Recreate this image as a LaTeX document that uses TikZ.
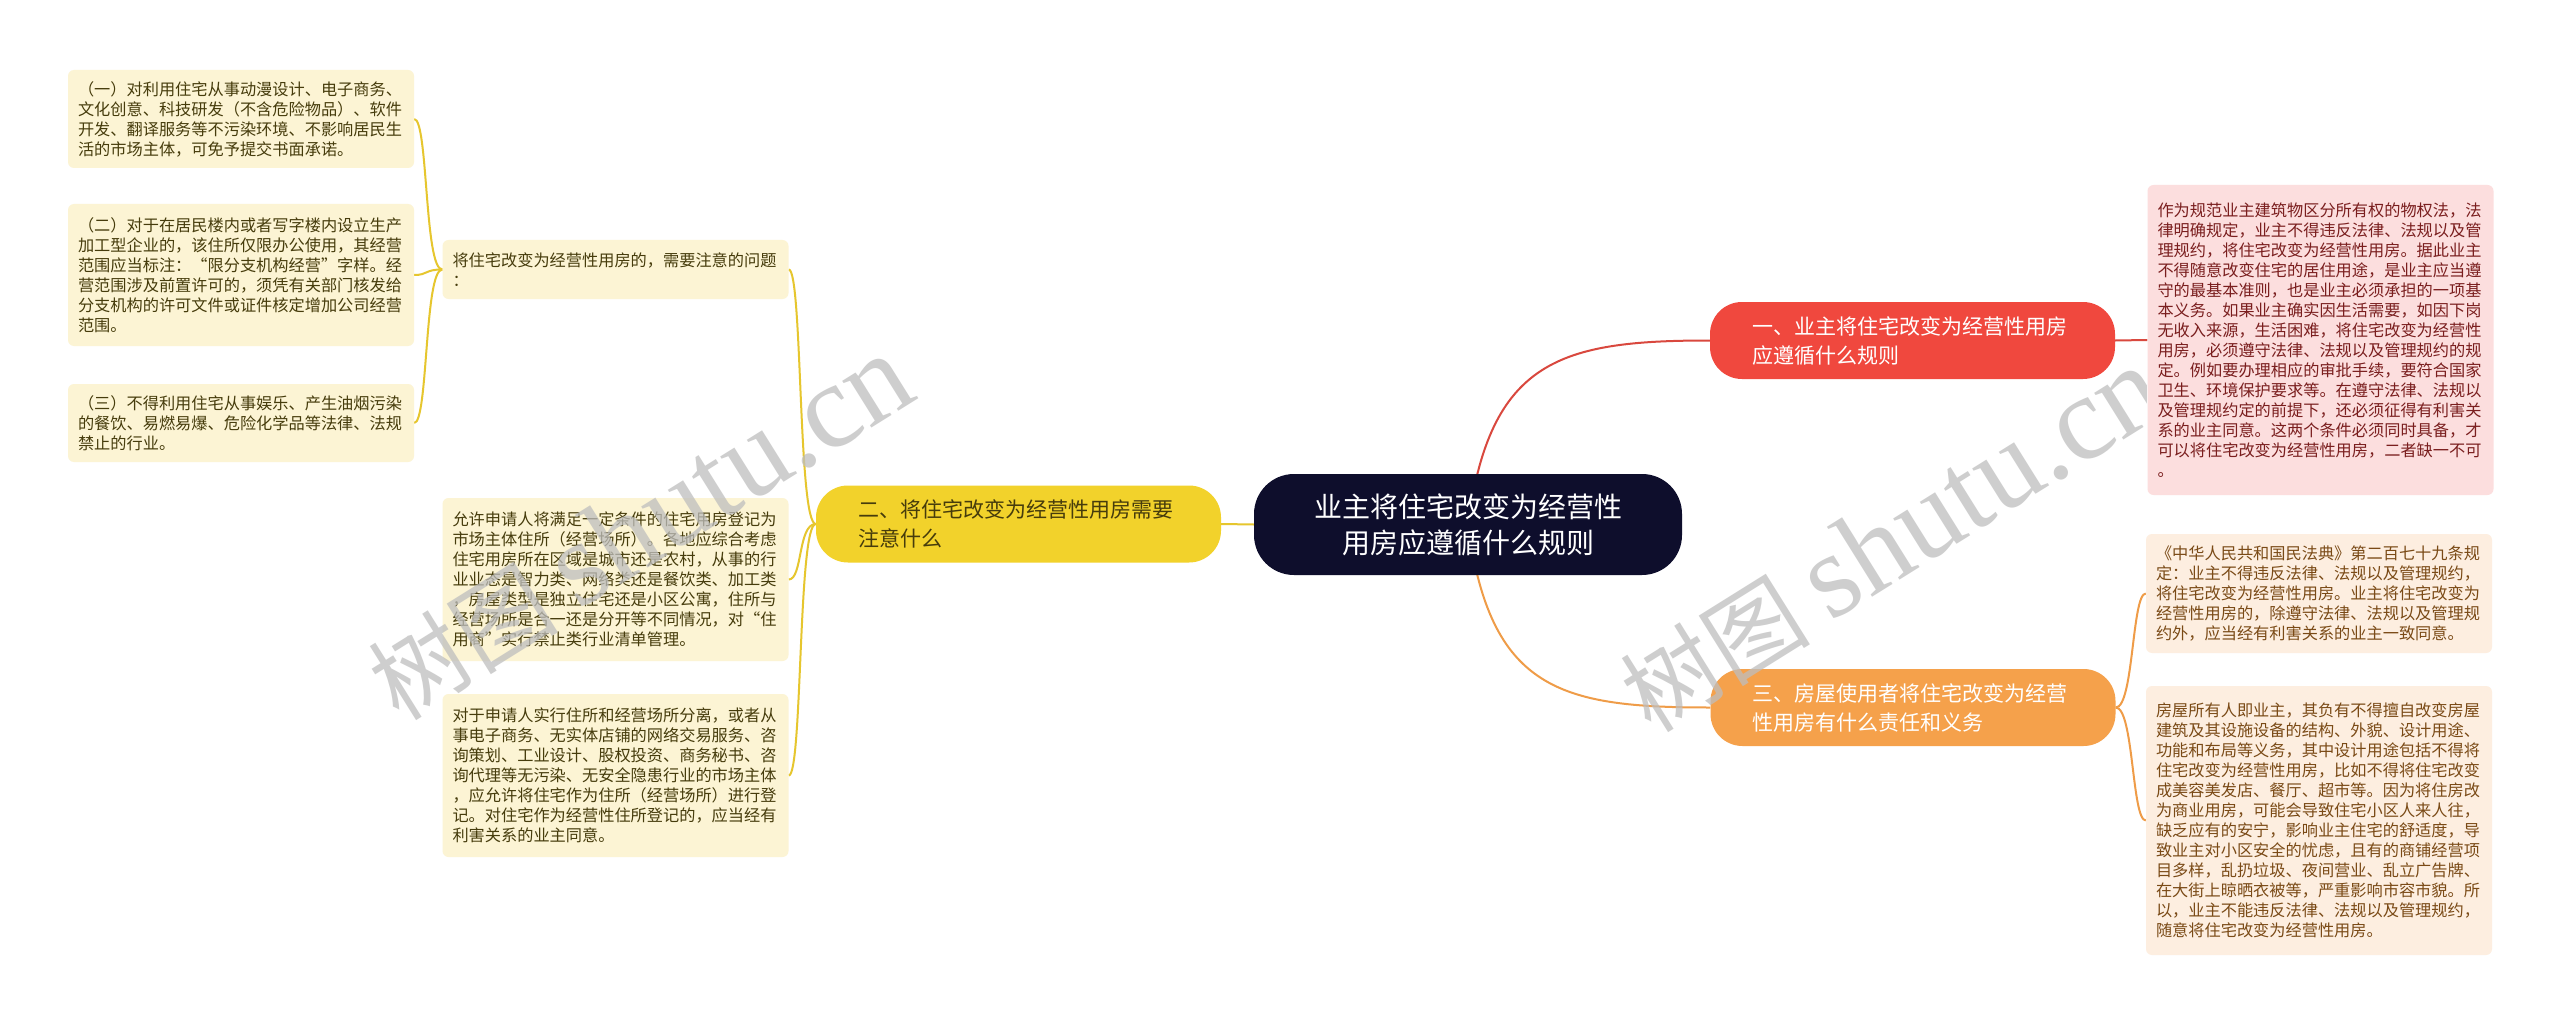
\documentclass[tikz,border=0pt]{standalone}
\usepackage{fontspec}
\setmainfont{Noto Sans CJK SC}
\newfontfamily\wmlatin{Liberation Serif}
\usetikzlibrary{backgrounds}
\definecolor{navy}{HTML}{0E0E2C}
\definecolor{redb}{HTML}{F0483E}
\definecolor{redl}{HTML}{FCDEDE}
\definecolor{redt}{HTML}{7A1E1E}
\definecolor{redc}{HTML}{D9483E}
\definecolor{yelb}{HTML}{F2D22B}
\definecolor{yell}{HTML}{FCF4D4}
\definecolor{yelt}{HTML}{463C0C}
\definecolor{yelc}{HTML}{E6C62E}
\definecolor{orab}{HTML}{F5A14B}
\definecolor{oral}{HTML}{FDEEE0}
\definecolor{orat}{HTML}{7A4A16}
\definecolor{orac}{HTML}{EF9C48}
\definecolor{wmgray}{HTML}{BEBEBE}
\tikzset{
  centralbox/.style={fill=navy, text=white, rounded corners=40pt, minimum width=428pt, minimum height=101pt, inner sep=0pt, align=center, font=\fontsize{28}{36}\selectfont},
  branchbox/.style={rounded corners=32pt, minimum width=405pt, minimum height=77pt, inner sep=0pt, text width=321pt, align=left, font=\fontsize{21}{29}\selectfont},
  leafbox/.style={rounded corners=6pt, inner xsep=10pt, inner ysep=0pt, text width=326pt, align=left, font=\fontsize{16.2}{20}\selectfont},
  yleaf/.style={leafbox, fill=yell, text=yelt},
  rleaf/.style={leafbox, fill=redl, text=redt},
  oleaf/.style={leafbox, fill=oral, text=orat},
  link/.style={line width=2pt},
  wmark/.style={text=wmgray, opacity=0.75, rotate=32, inner sep=0pt}
}
\begin{document}
\begin{tikzpicture}[x=1pt,y=-1pt]
\useasboundingbox (0,0) rectangle (2560,1027);
% central
\node[centralbox] (c) at (1468,524.5) {业主将住宅改变为经营性\\用房应遵循什么规则};
% branches
\node[branchbox, fill=redb, text=white] (b1) at (1912.5,340.5) {一、业主将住宅改变为经营性用房\\应遵循什么规则};
\node[branchbox, fill=yelb, text=yelt] (b2) at (1018.5,524) {二、将住宅改变为经营性用房需要\\注意什么};
\node[branchbox, fill=orab, text=white] (b3) at (1913,707.5) {三、房屋使用者将住宅改变为经营\\性用房有什么责任和义务};
% red leaf
\node[rleaf, minimum height=310pt] (r1) at (2320.5,340) {作为规范业主建筑物区分所有权的物权法，法\\律明确规定，业主不得违反法律、法规以及管\\理规约，将住宅改变为经营性用房。据此业主\\不得随意改变住宅的居住用途，是业主应当遵\\守的最基本准则，也是业主必须承担的一项基\\本义务。如果业主确实因生活需要，如因下岗\\无收入来源，生活困难，将住宅改变为经营性\\用房，必须遵守法律、法规以及管理规约的规\\定。例如要办理相应的审批手续，要符合国家\\卫生、环境保护要求等。在遵守法律、法规以\\及管理规约定的前提下，还必须征得有利害关\\系的业主同意。这两个条件必须同时具备，才\\可以将住宅改变为经营性用房，二者缺一不可\\。};
% orange leaves
\node[oleaf, minimum height=119pt] (o1) at (2319,593.5) {《中华人民共和国民法典》第二百七十九条规\\定：业主不得违反法律、法规以及管理规约，\\将住宅改变为经营性用房。业主将住宅改变为\\经营性用房的，除遵守法律、法规以及管理规\\约外，应当经有利害关系的业主一致同意。};
\node[oleaf, minimum height=269pt] (o2) at (2319,820.5) {房屋所有人即业主，其负有不得擅自改变房屋\\建筑及其设施设备的结构、外貌、设计用途、\\功能和布局等义务，其中设计用途包括不得将\\住宅改变为经营性用房，比如不得将住宅改变\\成美容美发店、餐厅、超市等。因为将住房改\\为商业用房，可能会导致住宅小区人来人往，\\缺乏应有的安宁，影响业主住宅的舒适度，导\\致业主对小区安全的忧虑，且有的商铺经营项\\目多样，乱扔垃圾、夜间营业、乱立广告牌、\\在大街上晾晒衣被等，严重影响市容市貌。所\\以，业主不能违反法律、法规以及管理规约，\\随意将住宅改变为经营性用房。};
% yellow leaves
\node[yleaf, minimum height=59pt] (ya) at (615.5,269.5) {将住宅改变为经营性用房的，需要注意的问题\\：};
\node[yleaf, minimum height=163pt] (yb) at (615.5,579.5) {允许申请人将满足一定条件的住宅用房登记为\\市场主体住所（经营场所）。各地应综合考虑\\住宅用房所在区域是城市还是农村，从事的行\\业业态是智力类、网络类还是餐饮类、加工类\\，房屋类型是独立住宅还是小区公寓，住所与\\经营场所是合一还是分开等不同情况，对“住\\用商”实行禁止类行业清单管理。};
\node[yleaf, minimum height=163pt] (yc) at (615.5,775.5) {对于申请人实行住所和经营场所分离，或者从\\事电子商务、无实体店铺的网络交易服务、咨\\询策划、工业设计、股权投资、商务秘书、咨\\询代理等无污染、无安全隐患行业的市场主体\\，应允许将住宅作为住所（经营场所）进行登\\记。对住宅作为经营性住所登记的，应当经有\\利害关系的业主同意。};
\node[yleaf, minimum height=98pt] (y1) at (241,119) {（一）对利用住宅从事动漫设计、电子商务、\\文化创意、科技研发（不含危险物品）、软件\\开发、翻译服务等不污染环境、不影响居民生\\活的市场主体，可免予提交书面承诺。};
\node[yleaf, minimum height=142pt] (y2) at (241,275) {（二）对于在居民楼内或者写字楼内设立生产\\加工型企业的，该住所仅限办公使用，其经营\\范围应当标注：“限分支机构经营”字样。经\\营范围涉及前置许可的，须凭有关部门核发给\\分支机构的许可文件或证件核定增加公司经营\\范围。};
\node[yleaf, minimum height=78pt] (y3) at (241,423) {（三）不得利用住宅从事娱乐、产生油烟污染\\的餐饮、易燃易爆、危险化学品等法律、法规\\禁止的行业。};
% connectors
\begin{pgfonlayer}{background}
\fill[white] (0,0) rectangle (2560,1027);
\draw[link, redc] (c.center) .. controls (1490,360) and (1560,340.5) .. (b1.west);
\draw[link, orac] (c.center) .. controls (1490,690) and (1560,707.5) .. (b3.west);
\draw[link, yelc] (c.west) -- (b2.east);
\draw[link, redc] (b1.east) -- (r1.west);
\draw[link, orac] (b3.east) .. controls +(18,0) and +(-14,0) .. (o1.west);
\draw[link, orac] (b3.east) .. controls +(18,0) and +(-14,0) .. (o2.west);
\draw[link, yelc] (b2.west) .. controls +(-18,0) and +(14,0) .. (ya.east);
\draw[link, yelc] (b2.west) .. controls +(-18,0) and +(14,0) .. (yb.east);
\draw[link, yelc] (b2.west) .. controls +(-18,0) and +(14,0) .. (yc.east);
\draw[link, yelc] (ya.west) .. controls +(-18,0) and +(14,0) .. (y1.east);
\draw[link, yelc] (ya.west) .. controls +(-18,0) and +(14,0) .. (y2.east);
\draw[link, yelc] (ya.west) .. controls +(-18,0) and +(14,0) .. (y3.east);
\end{pgfonlayer}
% watermarks
\node[wmark] (w1) at (640,528) {\fontsize{95}{95}\selectfont 树图 \wmlatin\fontsize{120}{120}\selectfont shutu.cn};
\begin{scope}
\clip (0,0) rectangle (2146,1027);
\node[wmark] (w2) at (1892,540) {\fontsize{95}{95}\selectfont 树图 \wmlatin\fontsize{120}{120}\selectfont shutu.cn};
\end{scope}
\end{tikzpicture}
\end{document}
